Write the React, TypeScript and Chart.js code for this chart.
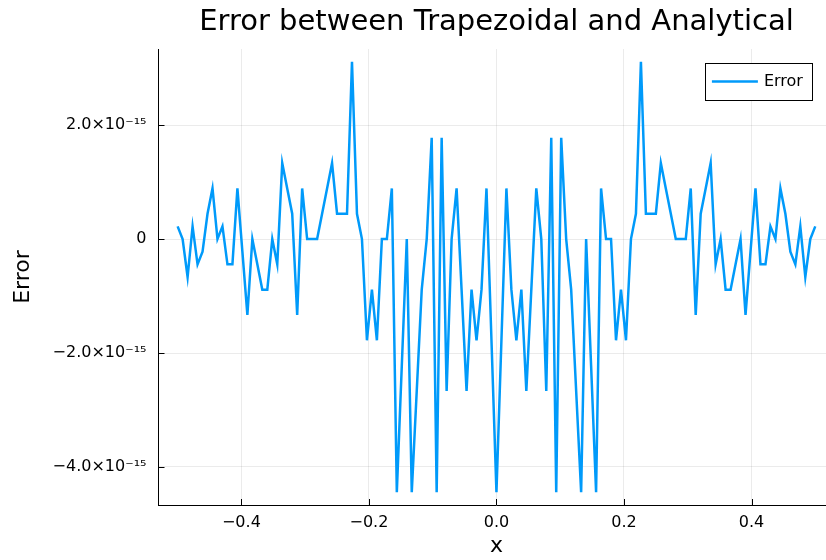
import { useEffect, useRef } from "react";
import { Chart, registerables } from "chart.js";

Chart.register(...registerables);

// Sample grid: 129 evenly spaced points on [-0.5, 0.5]
const SAMPLE_COUNT = 129;
const X_START = -0.5;
const X_END = 0.5;
const xValues: number[] = Array.from(
  { length: SAMPLE_COUNT },
  (_, i) => X_START + (i * (X_END - X_START)) / (SAMPLE_COUNT - 1)
);

// Trapezoidal minus analytical result at each sample
const errorValues: number[] = [
  2.22e-16, 0, -6.661e-16, 2.22e-16, -4.441e-16, -2.22e-16, 4.441e-16, 8.882e-16, 0, 2.22e-16,
  -4.441e-16, -4.441e-16, 8.882e-16, -2.22e-16, -1.3323e-15, 0, -4.441e-16, -8.882e-16, -8.882e-16, 0,
  -4.441e-16, 1.3323e-15, 8.882e-16, 4.441e-16, -1.3323e-15, 8.882e-16, 0, 0, 0, 4.441e-16,
  8.882e-16, 1.3323e-15, 4.441e-16, 4.441e-16, 4.441e-16, 3.1086e-15, 4.441e-16, 0, -1.7764e-15, -8.882e-16,
  -1.7764e-15, 0, 0, 8.882e-16, -4.4409e-15, -2.2204e-15, 0, -4.4409e-15, -2.6645e-15, -8.882e-16,
  0, 1.7764e-15, -4.4409e-15, 1.7764e-15, -2.6645e-15, 0, 8.882e-16, -8.882e-16, -2.6645e-15, -8.882e-16,
  -1.7764e-15, -8.882e-16, 8.882e-16, -1.7764e-15, -4.4409e-15,
  -1.7764e-15, 8.882e-16, -8.882e-16, -1.7764e-15, -8.882e-16, -2.6645e-15, -8.882e-16, 8.882e-16, 0, -2.6645e-15,
  1.7764e-15, -4.4409e-15, 1.7764e-15, 0, -8.882e-16, -2.6645e-15, -4.4409e-15, 0, -2.2204e-15, -4.4409e-15,
  8.882e-16, 0, 0, -1.7764e-15, -8.882e-16, -1.7764e-15, 0, 4.441e-16, 3.1086e-15, 4.441e-16,
  4.441e-16, 4.441e-16, 1.3323e-15, 8.882e-16, 4.441e-16, 0, 0, 0, 8.882e-16, -1.3323e-15,
  4.441e-16, 8.882e-16, 1.3323e-15, -4.441e-16, 0, -8.882e-16, -8.882e-16, -4.441e-16, 0, -1.3323e-15,
  -2.22e-16, 8.882e-16, -4.441e-16, -4.441e-16, 2.22e-16, 0, 8.882e-16, 4.441e-16, -2.22e-16, -4.441e-16,
  2.22e-16, -6.661e-16, 0, 2.22e-16,
];

const xTickValues = [-0.4, -0.2, 0, 0.2, 0.4];
const xTickLabels = ["\u22120.4", "\u22120.2", "0.0", "0.2", "0.4"];
const yTickValues = [-4e-15, -2e-15, 0, 2e-15];
const yTickLabels = [
  "\u22124.0\u00d710\u207b\u00b9\u2075",
  "\u22122.0\u00d710\u207b\u00b9\u2075",
  "0",
  "2.0\u00d710\u207b\u00b9\u2075",
];

const X_MIN = -0.53;
const X_MAX = 0.53;
const Y_MIN = -4.667e-15;
const Y_MAX = 3.335e-15;

const LINE_COLOR = "#009AFA";
const FONT = "'DejaVu Sans', sans-serif";
const GRID_COLOR = "rgba(0,0,0,0.08)";

// Inward tick marks plus the framed legend inside the plot area
const decorations = {
  id: "decorations",
  afterDraw(chart: any) {
    const { ctx, chartArea, scales } = chart;
    const { left, right, top, bottom } = chartArea;
    ctx.save();
    ctx.strokeStyle = "#000";
    ctx.lineWidth = 1;
    ctx.beginPath();
    for (const v of yTickValues) {
      const y = Math.round(scales.y.getPixelForValue(v)) + 0.5;
      ctx.moveTo(left, y);
      ctx.lineTo(left + 6, y);
    }
    for (const v of xTickValues) {
      const x = Math.round(scales.x.getPixelForValue(v)) + 0.5;
      ctx.moveTo(x, bottom);
      ctx.lineTo(x, bottom - 6);
    }
    ctx.stroke();

    // legend
    const ds = chart.data.datasets[0];
    const bx = right - 129.5;
    const by = top + 14;
    const bw = 107;
    const bh = 37;
    ctx.fillStyle = "#fff";
    ctx.fillRect(bx, by, bw, bh);
    ctx.strokeStyle = "#000";
    ctx.lineWidth = 1;
    ctx.strokeRect(Math.round(bx) + 0.5, Math.round(by) + 0.5, bw, bh);
    const cy = by + bh / 2;
    ctx.strokeStyle = ds.borderColor;
    ctx.lineWidth = 2.5;
    ctx.beginPath();
    ctx.moveTo(bx + 7, cy);
    ctx.lineTo(bx + 53, cy);
    ctx.stroke();
    ctx.fillStyle = "#000";
    ctx.font = `16px ${FONT}`;
    ctx.textAlign = "left";
    ctx.textBaseline = "middle";
    ctx.fillText(ds.label, bx + 59, cy);
    ctx.restore();
  },
};

export default function App() {
  const canvasRef = useRef<HTMLCanvasElement | null>(null);

  useEffect(() => {
    const canvas = canvasRef.current;
    if (!canvas) return;
    const chart = new Chart(canvas, {
      type: "line",
      data: {
        datasets: [
          {
            label: "Error",
            data: xValues.map((x, i) => ({ x, y: errorValues[i] })),
            borderColor: LINE_COLOR,
            backgroundColor: LINE_COLOR,
            borderWidth: 2.5,
            pointRadius: 0,
            tension: 0,
            fill: false,
          },
        ],
      },
      options: {
        animation: false,
        responsive: false,
        devicePixelRatio: 1,
        layout: { padding: { left: 0, right: 5.6, top: 0, bottom: 0 } },
        plugins: {
          legend: { display: false },
          tooltip: { enabled: false },
          title: {
            display: true,
            text: "Error between Trapezoidal and Analytical",
            fullSize: false,
            color: "#000",
            font: { family: FONT, size: 29, weight: "normal", lineHeight: 1.2 },
            padding: { top: 5, bottom: 9.2 },
          },
        },
        scales: {
          x: {
            type: "linear",
            min: X_MIN,
            max: X_MAX,
            afterBuildTicks: (scale: any) => {
              scale.ticks = xTickValues.map((value) => ({ value }));
            },
            afterFit: (scale: any) => {
              scale.height = 55;
            },
            ticks: {
              autoSkip: false,
              maxRotation: 0,
              padding: 8,
              color: "#000",
              font: { family: FONT, size: 16 },
              callback: (_v: any, i: number) => xTickLabels[i],
            },
            grid: { color: GRID_COLOR, lineWidth: 1, drawTicks: false },
            border: { display: true, color: "#000", width: 1 },
            title: {
              display: true,
              text: "x",
              color: "#000",
              font: { family: FONT, size: 22, lineHeight: 1.2 },
              padding: { top: 0, bottom: 1 },
            },
          },
          y: {
            type: "linear",
            min: Y_MIN,
            max: Y_MAX,
            afterBuildTicks: (scale: any) => {
              scale.ticks = yTickValues.map((value) => ({ value }));
            },
            afterFit: (scale: any) => {
              scale.width = 158.5;
            },
            ticks: {
              autoSkip: false,
              padding: 12,
              color: "#000",
              font: { family: FONT, size: 16 },
              callback: (_v: any, i: number) => yTickLabels[i],
            },
            grid: { color: GRID_COLOR, lineWidth: 1, drawTicks: false },
            border: { display: true, color: "#000", width: 1 },
            title: {
              display: true,
              text: "Error",
              color: "#000",
              font: { family: FONT, size: 22, lineHeight: 1.2 },
              padding: { top: 10, bottom: 0 },
            },
          },
        },
      },
      plugins: [decorations],
    } as any);
    return () => chart.destroy();
  }, []);

  return (
    <div
      style={{
        position: "fixed",
        left: 0,
        top: 0,
        width: 826,
        height: 560,
        overflow: "hidden",
        background: "#fff",
      }}
    >
      <canvas
        ref={canvasRef}
        width={840}
        height={560}
        style={{ width: 840, height: 560, display: "block" }}
      />
    </div>
  );
}
